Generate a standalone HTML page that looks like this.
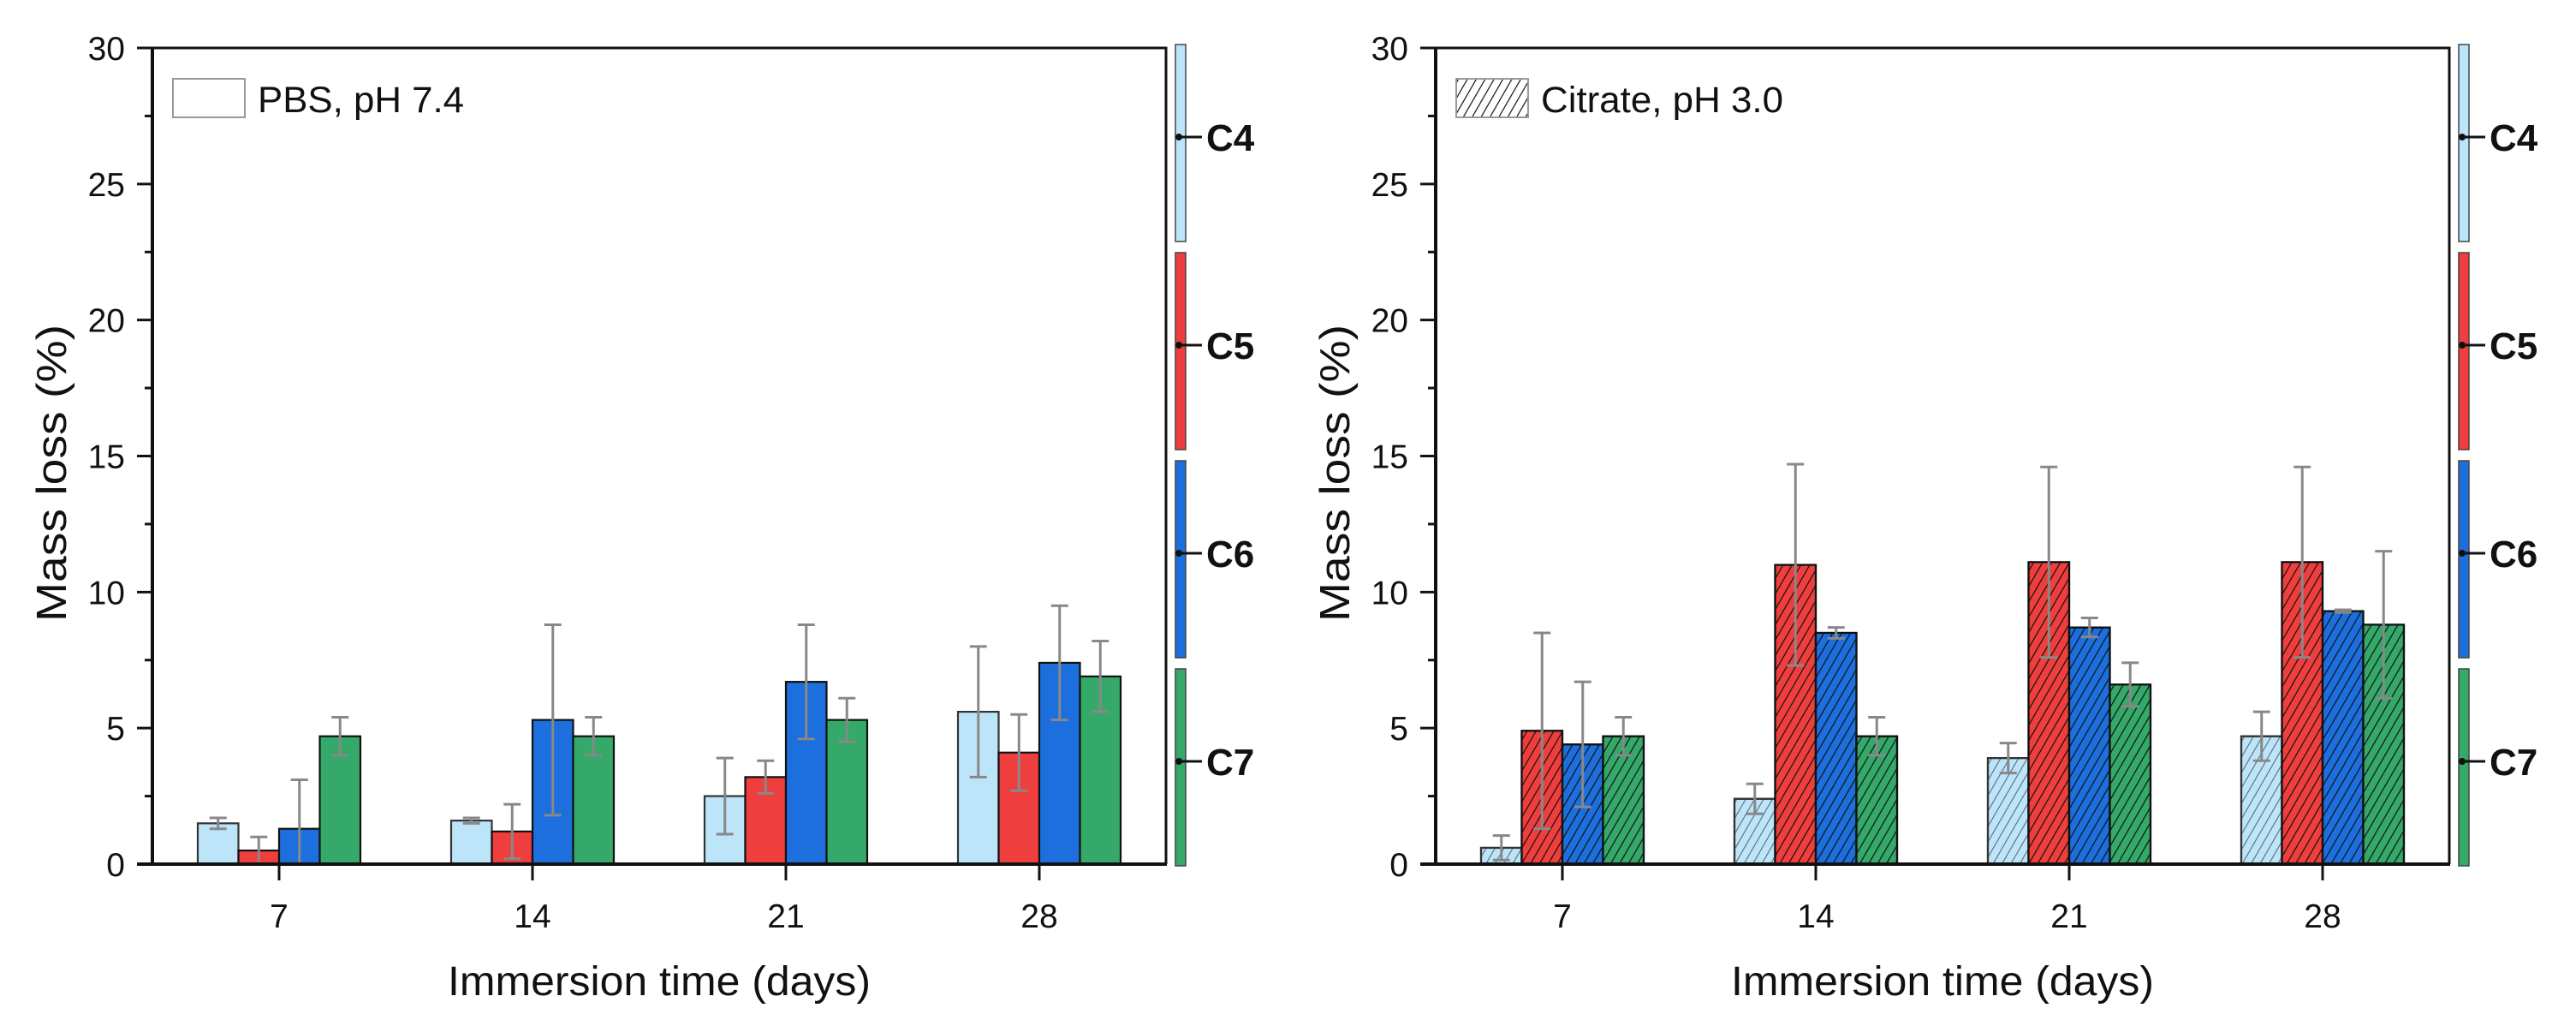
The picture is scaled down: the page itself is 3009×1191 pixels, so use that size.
<!DOCTYPE html>
<html><head><meta charset="utf-8"><style>
html,body{margin:0;padding:0;background:#fff;}
svg{display:block;font-family:"Liberation Sans",Arial,sans-serif;}
</style></head><body>
<svg id="fig" width="3009" height="1191" viewBox="0 0 3009 1191" xmlns="http://www.w3.org/2000/svg">
<defs>
<pattern id="hatchDark" patternUnits="userSpaceOnUse" width="9" height="9" patternTransform="rotate(30)">
<line x1="0" y1="0" x2="0" y2="9" stroke="#111" stroke-width="2.4"/>
</pattern>
<pattern id="hatchGray" patternUnits="userSpaceOnUse" width="9" height="9" patternTransform="rotate(30)">
<line x1="0" y1="0" x2="0" y2="9" stroke="#5a6a78" stroke-width="2.2"/>
</pattern>
</defs>
</svg>
<script>
const categories = ["7", "14", "21", "28"];
const seriesNames = ["C4", "C5", "C6", "C7"];
const yTicks = [0, 5, 10, 15, 20, 25, 30];
const pbsC4 = [1.5, 1.6, 2.5, 5.6];
const pbsC5 = [0.5, 1.2, 3.2, 4.1];
const pbsC6 = [1.3, 5.3, 6.7, 7.4];
const pbsC7 = [4.7, 4.7, 5.3, 6.9];
const pbsErrC4 = [0.2, 0.1, 1.4, 2.4];
const pbsErrC5 = [0.5, 1.0, 0.6, 1.4];
const pbsErrC6 = [1.8, 3.5, 2.1, 2.1];
const pbsErrC7 = [0.7, 0.7, 0.8, 1.3];
const citC4 = [0.6, 2.4, 3.9, 4.7];
const citC5 = [4.9, 11.0, 11.1, 11.1];
const citC6 = [4.4, 8.5, 8.7, 9.3];
const citC7 = [4.7, 4.7, 6.6, 8.8];
const citErrC4 = [0.45, 0.55, 0.55, 0.9];
const citErrC5 = [3.6, 3.7, 3.5, 3.5];
const citErrC6 = [2.3, 0.2, 0.35, 0.05];
const citErrC7 = [0.7, 0.7, 0.8, 2.7];

const colors = ["#bde5fa", "#ef3e3e", "#1c6fdc", "#34a96a"];
const NS = "http://www.w3.org/2000/svg";
const svg = document.getElementById("fig");
function mk(tag, attrs, parent) {
  const e = document.createElementNS(NS, tag);
  for (const k in attrs) e.setAttribute(k, attrs[k]);
  (parent || svg).appendChild(e);
  return e;
}
const TOP = 56, BASE = 1009, YMAX = 30;
function yScale(v) { return BASE - (v / YMAX) * (BASE - TOP); }

function panel(key, x0, hatched, legendText, legendLen, vals, errs) {
  const g = mk("g", {});
  
  
  const step = 296, x1 = x0 + 4 * step;
  function xScale(i) { return x0 + step / 2 + i * step; }
  const bw = 47.5;
  for (let s = 0; s < 4; s++) {
    for (let i = 0; i < categories.length; i++) {
      const cx = xScale(i) - 2 * bw + s * bw;
      const y = yScale(vals[s][i]);
      const r = mk("rect", {x: cx, y: y, width: bw, height: BASE - y, fill: colors[s], stroke: s === 0 ? "#333" : "#111", "stroke-width": 2.2}, g);
      
      
      if (hatched) {
        const h = mk("rect", {x: cx, y: y, width: bw, height: BASE - y, fill: s === 0 ? "url(#hatchGray)" : "url(#hatchDark)", stroke: s === 0 ? "#333" : "#111", "stroke-width": 2.2}, g);
        
        
      }
    }
  }
  for (let s = 0; s < 4; s++) {
    for (let i = 0; i < categories.length; i++) {
      const cx = xScale(i) - 2 * bw + s * bw + bw / 2;
      const v = vals[s][i], e = errs[s][i];
      const yt = yScale(v + e), yb = yScale(Math.max(0, v - e));
      const eg = mk("g", {stroke: "#888", "stroke-width": 3, fill: "none"}, g);
      
      
      mk("line", {x1: cx, x2: cx, y1: yt, y2: yb}, eg);
      mk("line", {x1: cx - 10, x2: cx + 10, y1: yt, y2: yt}, eg);
      mk("line", {x1: cx - 10, x2: cx + 10, y1: yb, y2: yb}, eg);
    }
  }
  const fr = mk("path", {d: `M${x0} ${TOP} H${x1} V${BASE}`, stroke: "#111", "stroke-width": 3, fill: "none"}, g);
  
  
  const ya = mk("line", {x1: x0, x2: x0, y1: TOP - 1, y2: BASE + 2, stroke: "#111", "stroke-width": 4}, g);
  
  
  const xa = mk("line", {x1: x0 - 18, x2: x1 + 1, y1: BASE, y2: BASE, stroke: "#111", "stroke-width": 4}, g);
  
  
  for (let k = 0; k < yTicks.length; k++) {
    const y = yScale(yTicks[k]);
    mk("line", {x1: x0 - 18, x2: x0, y1: y, y2: y, stroke: "#111", "stroke-width": 3}, g);
    if (k < yTicks.length - 1) {
      const ym = yScale(yTicks[k] + 2.5);
      mk("line", {x1: x0 - 9, x2: x0, y1: ym, y2: ym, stroke: "#111", "stroke-width": 3}, g);
    }
    const t = mk("text", {x: x0 - 32, y: y + 14, "text-anchor": "end", "font-size": 39, fill: "#111"}, g);
    t.textContent = yTicks[k];
    
    
  }
  for (let i = 0; i < categories.length; i++) {
    const x = xScale(i);
    mk("line", {x1: x, x2: x, y1: BASE, y2: BASE + 19, stroke: "#111", "stroke-width": 3}, g);
    const t = mk("text", {x: x, y: 1083, "text-anchor": "middle", "font-size": 39, fill: "#111"}, g);
    t.textContent = categories[i];
    
    
  }
  const xt = mk("text", {x: (x0 + x1) / 2 - 247, y: 1162, "font-size": 48, fill: "#111", textLength: 494, lengthAdjust: "spacingAndGlyphs"}, g);
  xt.textContent = "Immersion time (days)";
  
  
  const yt = mk("text", {x: -173, y: 0, "font-size": 49, fill: "#111", textLength: 347, lengthAdjust: "spacingAndGlyphs", transform: `translate(${x0 - 101},553) rotate(-90)`}, g);
  yt.textContent = "Mass loss (%)";
  
  
  const lg = mk("g", {}, g);
  
  
  mk("rect", {x: x0 + 24, y: 92, width: 84, height: 45, fill: hatched ? "url(#hatchDark)" : "#fff", stroke: "#999", "stroke-width": 2}, lg);
  const lt = mk("text", {x: x0 + 123, y: 131, "font-size": 43, fill: "#111", textLength: legendLen, lengthAdjust: "spacingAndGlyphs"}, lg);
  lt.textContent = legendText;
  const cbx = x1 + 11;
  const segTop = [52, 295, 538, 781];
  for (let s = 0; s < 4; s++) {
    const kg = mk("g", {}, g);
    
    
    mk("rect", {x: cbx, y: segTop[s], width: 12, height: 230, fill: colors[s], stroke: "#444", "stroke-width": 1.5}, kg);
    const cy = segTop[s] + 108;
    mk("circle", {cx: cbx + 4, cy: cy, r: 4, fill: "#111"}, kg);
    mk("line", {x1: cbx + 4, x2: cbx + 31, y1: cy, y2: cy, stroke: "#111", "stroke-width": 3}, kg);
    const ct = mk("text", {x: cbx + 36, y: cy + 16, "font-size": 44, "font-weight": "bold", fill: "#111"}, kg);
    ct.textContent = seriesNames[s];
  }
}
panel("pbs", 178, false, "PBS, pH 7.4", 241, [pbsC4, pbsC5, pbsC6, pbsC7], [pbsErrC4, pbsErrC5, pbsErrC6, pbsErrC7]);
panel("citrate", 1677, true, "Citrate, pH 3.0", 283, [citC4, citC5, citC6, citC7], [citErrC4, citErrC5, citErrC6, citErrC7]);
</script>
</body></html>
